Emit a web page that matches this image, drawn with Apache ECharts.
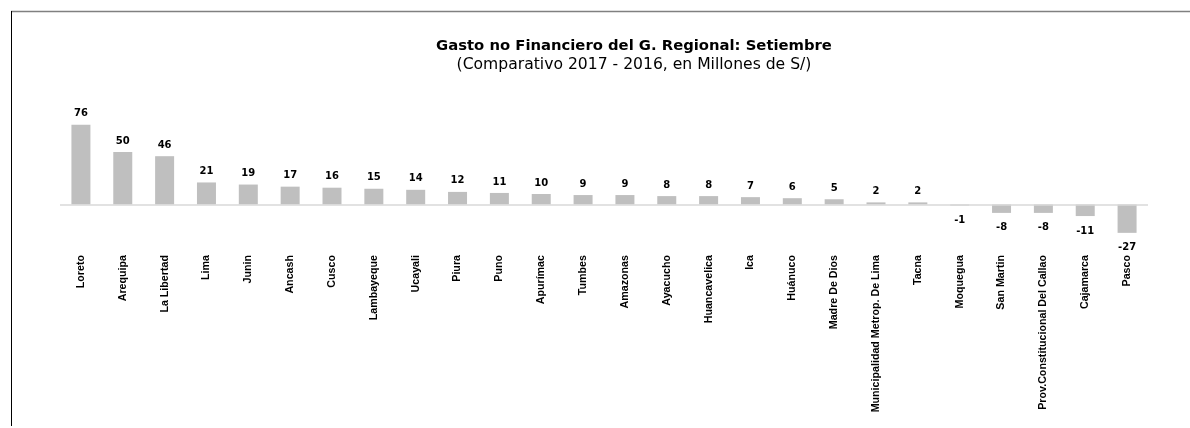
<!DOCTYPE html>
<html><head><meta charset="utf-8">
<script src="https://cdn.jsdelivr.net/npm/echarts@6/dist/echarts.min.js"></script>
<style>html,body{margin:0;padding:0;background:#fff}#c{width:1190px;height:428px}</style>
</head><body><div id="c"></div>
<script>
const categories = ["Loreto","Arequipa","La Libertad","Lima","Junin","Ancash","Cusco","Lambayeque","Ucayali","Piura","Puno","Apurímac","Tumbes","Amazonas","Ayacucho","Huancavelica","Ica","Huánuco","Madre De Dios","Municipalidad Metrop. De Lima","Tacna","Moquegua","San Martin","Prov.Constitucional Del Callao","Cajamarca","Pasco"];
const values = [76,50,46,21,19,17,16,15,14,12,11,10,9,9,8,8,7,6,5,2,2,-1,-8,-8,-11,-27];
const titleText = "Gasto no Financiero del G. Regional: Setiembre";
const subtitleText = "(Comparativo 2017 - 2016, en Millones de S/)";

const chart = echarts.init(document.getElementById('c'));
chart.setOption({
  animation: false,
  title: {
    text: titleText, subtext: subtitleText, left: 629, textAlign: 'center', top: 34, itemGap: 3,
    textStyle: {fontFamily: 'DejaVu Sans', fontWeight: 'bold', fontSize: 14.8, color: '#000'},
    subtextStyle: {fontFamily: 'DejaVu Sans', fontSize: 15.6, color: '#000'}
  },
  graphic: [
    {type: 'line', shape: {x1: 11, y1: 11.5, x2: 1190, y2: 11.5}, style: {stroke: '#808080', lineWidth: 1.5}},
    {type: 'line', shape: {x1: 11.5, y1: 11, x2: 11.5, y2: 426}, style: {stroke: '#000', lineWidth: 1}}
  ],
  grid: {left: 60, right: 42, top: 120.5, bottom: 428 - 236},
  xAxis: {
    type: 'category', data: categories,
    axisLine: {show: false, onZero: false}, axisTick: {show: false},
    axisLabel: {rotate: 90, interval: 0, margin: 19, fontFamily: 'Liberation Sans', fontWeight: 'bold', fontSize: 10.7, color: '#000'}
  },
  yAxis: {type: 'value', min: -30, max: 80, show: false, splitLine: {show: false}},
  series: [{
    type: 'bar', barWidth: 19,
    data: values.map(v => v < 0 ? {value: v, label: {position: 'bottom', distance: 10}} : v),
    itemStyle: {color: '#bfbfbf'},
    label: {
      show: true, fontFamily: 'DejaVu Sans', fontWeight: 'bold', fontSize: 10, color: '#000',
      position: 'top', distance: 6
    },
    markLine: {
      silent: true, symbol: 'none', label: {show: false},
      lineStyle: {color: '#d9d9d9', width: 1.5, type: 'solid'},
      data: [{yAxis: 0}]
    }
  }]
});
</script></body></html>
